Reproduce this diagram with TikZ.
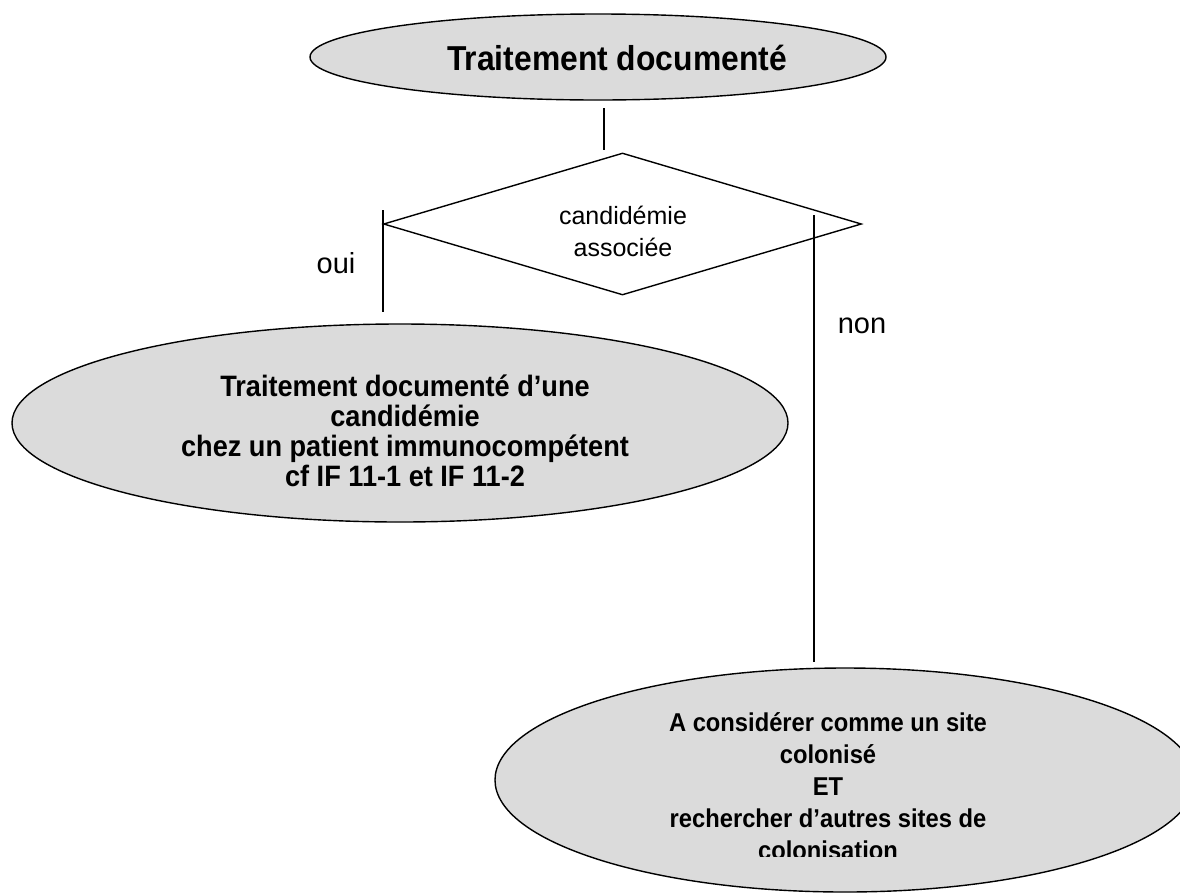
\documentclass[tikz,border=0pt]{standalone}
\usepackage{fontspec}
\setmainfont{Liberation Sans}
\newfontfamily\narrowsans[FakeStretch=0.92]{Liberation Sans}
\usetikzlibrary{shapes.geometric}

\tikzset{
  bubble/.style={ellipse, draw=black, line width=1.4pt, fill=gray!28, inner sep=0pt},
  decision/.style={diamond, draw=black, line width=1.4pt, fill=white, inner sep=0pt},
  link/.style={draw=black, line width=1.4pt},
  boldtext/.style={align=center},
}

\begin{document}
\begin{tikzpicture}[x=1pt, y=-1pt]
  \useasboundingbox (0,0) rectangle (1180,892);

  % starting point
  \node[bubble, minimum width=576pt, minimum height=86pt] (start) at (598,57) {};
  \node[boldtext, font=\narrowsans\bfseries\fontsize{34.6}{38}\selectfont] (starttext) at (617,58) {Traitement documenté};

  % decision
  \node[decision, minimum width=478pt, minimum height=142pt] (dec) at (622.5,224) {};
  \node[align=center, font=\fontsize{25}{32}\selectfont] (dectext) at (623,231) {candidémie\\associée};

  % outcome for a candidaemia
  \node[bubble, minimum width=776pt, minimum height=198pt] (yes) at (400,423) {};
  \node[boldtext, font=\narrowsans\bfseries\fontsize{29.5}{30}\selectfont] (yestext) at (405,431)
    {Traitement documenté d’une\\candidémie\\chez un patient immunocompétent\\cf IF 11-1 et IF 11-2};

  % outcome without candidaemia
  \node[bubble, minimum width=700pt, minimum height=224pt] (no) at (845,780) {};
  \begin{scope}
    \clip (480,690) rectangle (1180,856);
    \node[boldtext, font=\narrowsans\bfseries\fontsize{25.8}{32}\selectfont, anchor=north] (notext) at (828,709)
      {A considérer comme un site\\colonisé\\ET\\rechercher d’autres sites de\\colonisation};
  \end{scope}

  % connector ends
  \coordinate (a1) at (604,108);
  \coordinate (a2) at (604,150);
  \coordinate (l1) at (383,210);
  \coordinate (l2) at (383,312);
  \coordinate (r1) at (814,215);
  \coordinate (r2) at (814,662);

  \draw[link] (a1) -- (a2);
  \draw[link] (l1) -- (l2);
  \draw[link] (r1) -- (r2);

  % branch labels
  \node[font=\fontsize{29}{32}\selectfont] (oui) at (336,263) {oui};
  \node[font=\fontsize{29}{32}\selectfont] (non) at (862,326) {non};
\end{tikzpicture}
\end{document}
